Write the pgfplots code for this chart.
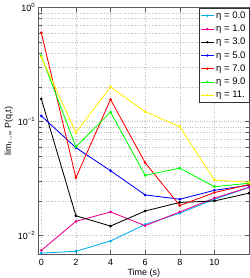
\documentclass[border=0pt]{standalone}
\usepackage{fontspec}
\setmainfont{Liberation Sans}
\usepackage{pgfplots}
\pgfplotsset{compat=1.18}
\begin{document}
\begin{tikzpicture}
\path[use as bounding box] (-38.7pt,-23.7pt) rectangle (210.3pt,254.3pt);
\begin{axis}[
  scale only axis, width=210.3pt, height=246.8pt,
  at={(0,0)}, anchor=south west,
  ymode=log, xmin=-0.15, xmax=12, ymin=0.00684, ymax=1,
  xtick={0,2,4,6,8,10},
  ytick={0.01,0.1,1},
  yticklabels={10\textsuperscript{−2},10\textsuperscript{−1},10\textsuperscript{0}},
  /pgf/number format/assume math mode=true,
  tick label style={font=\fontsize{9}{10}\selectfont},
  label style={font=\fontsize{9}{10}\selectfont},
  xlabel={Time (s)},
  ylabel={lim\textsubscript{t→∞} P(q,t)},
  xlabel style={yshift=3pt},
  ylabel style={yshift=-2pt},
  grid=both,
  major grid style={gray!50, dotted},
  minor grid style={gray!50, dotted},
  axis line style={gray!70!black},
  tick style={gray!70!black},
  tick align=inside,
  xticklabel style={yshift=-1pt},
  every axis plot/.append style={line width=0.85pt, mark=*, mark size=0.9pt},
  legend style={at={(rel axis cs:1,0.997)}, anchor=north east, font=\fontsize{9.5}{10}\selectfont,
    draw=black!80, fill=white, inner sep=1.5pt, row sep=1.1pt, outer sep=0pt},
  legend cell align=left,
  legend image post style={scale=0.75},
]
\addplot[cyan] coordinates {(0,0.0070) (2,0.00727) (4,0.00895) (6,0.0125) (8,0.0157) (10,0.0208) (12,0.0264)};
\addlegendentry{η = 0.0}
\addplot[magenta] coordinates {(0,0.0074) (2,0.0133) (4,0.0161) (6,0.0122) (8,0.0161) (10,0.0213) (12,0.0265)};
\addlegendentry{η = 1.0}
\addplot[black] coordinates {(0,0.158) (2,0.0149) (4,0.0121) (6,0.0164) (8,0.0195) (10,0.0201) (12,0.0235)};
\addlegendentry{η = 3.0}
\addplot[blue] coordinates {(0,0.112) (2,0.0589) (4,0.037) (6,0.0227) (8,0.0208) (10,0.0249) (12,0.0276)};
\addlegendentry{η = 5.0}
\addplot[red] coordinates {(0,0.60) (2,0.0321) (4,0.156) (6,0.0435) (8,0.0183) (10,0.0238) (12,0.028)};
\addlegendentry{η = 7.0}
\addplot[green] coordinates {(0,0.376) (2,0.060) (4,0.121) (6,0.0337) (8,0.039) (10,0.0268) (12,0.0287)};
\addlegendentry{η = 9.0}
\addplot[yellow] coordinates {(0,0.368) (2,0.080) (4,0.201) (6,0.122) (8,0.090) (10,0.0307) (12,0.0293)};
\addlegendentry{η = 11.}
\end{axis}
\end{tikzpicture}
\end{document}
